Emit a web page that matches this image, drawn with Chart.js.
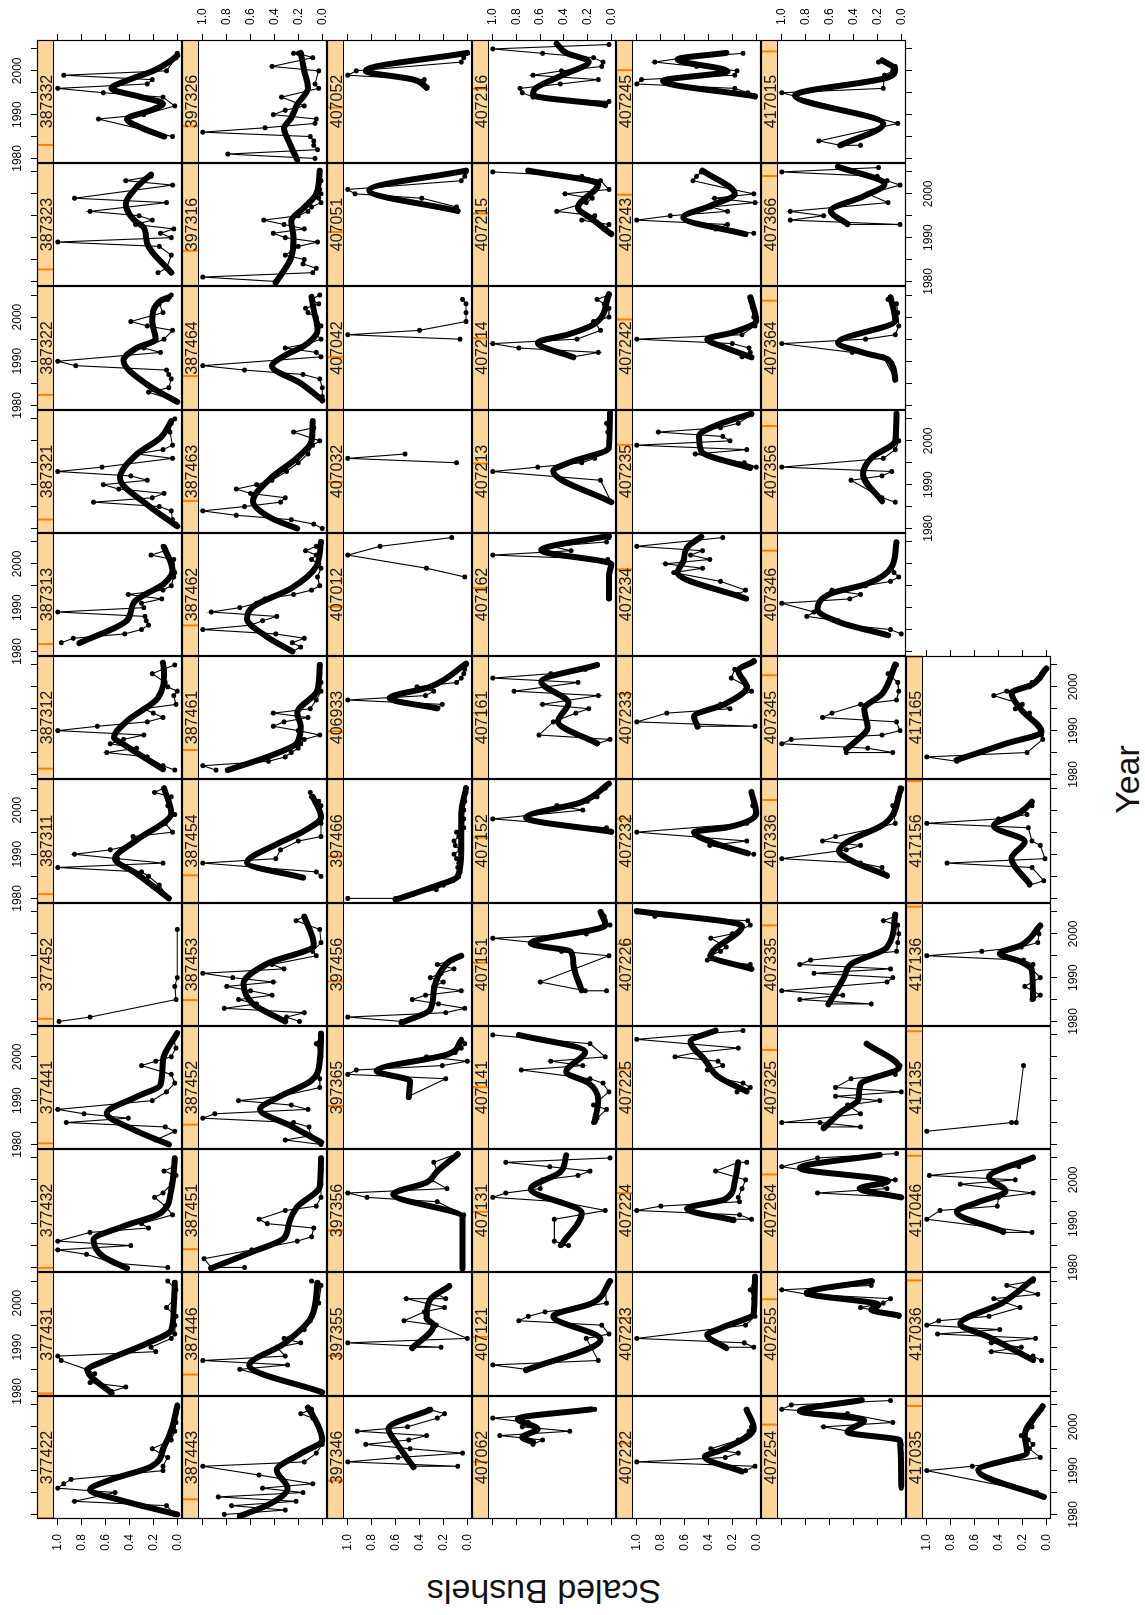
<!DOCTYPE html>
<html>
<head>
<meta charset="utf-8">
<title>Scaled Bushels by Year</title>
<script src="https://cdn.jsdelivr.net/npm/chart.js@4.4.1/dist/chart.umd.min.js"></script>
<style>
html, body { margin: 0; padding: 0; background: #fff; }
body { width: 1145px; height: 1615px; overflow: hidden; position: relative; }
/* the lattice is laid out in landscape and then turned a quarter to the left */
#page { position: absolute; left: 0; top: 0; width: 1615px; height: 1145px;
  transform-origin: 0 0; transform: translate(0px, 1615px) rotate(-90deg);
  font-family: 'Liberation Sans', Arial, Helvetica, sans-serif; color: #000; }
#page canvas { position: absolute; }
.strip { position: absolute; text-align: center; font-size: 16px; color: #1a1a1a; white-space: nowrap; }
.axis-title { position: absolute; font-size: 34px; line-height: 34px; text-align: center; white-space: nowrap; color: #111; }
</style>
</head>
<body>
<div id="page"></div>
<script>
// panels in reading order (12 per row)
const stations = [
  '377422','377431','377432','377441','377452','387311','387312','387313','387321','387322','387323','387332',
  '387443','387446','387451','387452','387453','387454','387461','387462','387463','387464','397316','397326',
  '397346','397355','397356','397365','397456','397466','406933','407012','407032','407042','407051','407052',
  '407062','407121','407131','407141','407151','407152','407161','407162','407213','407214','407215','407216',
  '407222','407223','407224','407225','407226','407232','407233','407234','407235','407242','407243','407245',
  '407254','407255','407264','407325','407335','407336','407345','407346','407356','407364','407366','417015',
  '417035','417036','417046','417135','417136','417156','417165'
];

const yearTicks = [1980, 1985, 1990, 1995, 2000, 2005];
const valueTicks = [0, 0.2, 0.4, 0.6, 0.8, 1.0];

// yearly scaled bushels, [year, value]
const rawPoints = [
  [[1980,0.02],[1982,0.09],[1983,0.86],[1985,0.52],[1986,1.0],[1987,0.95],[1988,0.89],[1990,0.12],[1991,0.12],[1993,0.08],[1995,0.21],[1997,0.05],[1999,0.02],[2001,0.01],[2003,0.01],[2005,0.0]], // 377422
  [[1980,0.55],[1981,0.43],[1982,0.73],[1984,0.69],[1985,0.76],[1987,0.97],[1988,1.0],[1989,0.18],[1990,0.22],[1992,0.05],[1993,0.02],[1995,0.02],[1997,0.01],[1999,0.09],[2001,0.02],[2003,0.01],[2005,0.08]], // 377431
  [[1980,0.08],[1981,0.53],[1983,0.76],[1984,1.0],[1985,0.39],[1986,1.0],[1988,0.73],[1989,0.24],[1990,0.3],[1992,0.04],[1994,0.1],[1996,0.19],[1997,0.12],[1999,0.05],[2001,0.01],[2002,0.11],[2003,0.03],[2005,0.02]], // 377432
  [[1980,0.07],[1981,0.18],[1983,0.02],[1984,0.1],[1985,0.93],[1986,0.41],[1987,0.78],[1988,1.0],[1990,0.21],[1992,0.09],[1994,0.02],[1996,0.05],[1998,0.30],[1999,0.18],[2000,0.05],[2002,0.01],[2004,0.03],[2005,0.01]], // 377441
  [[1980,0.99],[1981,0.73],[1985,0.01],[1988,0.02],[1990,0.0],[2001,0.0]], // 377452
  [[1980,0.07],[1983,0.15],[1985,0.24],[1986,0.3],[1987,1.0],[1988,0.12],[1989,0.5],[1990,0.86],[1991,0.56],[1992,0.4],[1994,0.37],[1995,0.04],[1997,0.1],[1999,0.02],[2001,0.08],[2003,0.05],[2004,0.19],[2005,0.11]], // 387311
  [[1981,0.02],[1982,0.12],[1984,0.25],[1985,0.59],[1986,0.34],[1987,0.56],[1988,0.45],[1989,0.28],[1990,1.0],[1991,0.67],[1992,0.25],[1993,0.12],[1994,0.2],[1995,0.28],[1996,0.01],[1998,0.03],[1999,0.0],[2000,0.08],[2001,0.1],[2003,0.21],[2004,0.12],[2005,0.02]], // 387312
  [[1982,0.97],[1983,0.87],[1984,0.44],[1985,0.30],[1986,0.24],[1987,0.26],[1988,0.27],[1989,1.0],[1990,0.28],[1991,0.30],[1992,0.13],[1993,0.41],[1994,0.12],[1995,0.05],[1997,0.03],[1998,0.02],[2001,0.03],[2002,0.22],[2003,0.10],[2004,0.12]], // 387313
  [[1981,0.01],[1982,0.04],[1984,0.05],[1985,0.15],[1986,0.70],[1987,0.21],[1988,0.11],[1989,0.49],[1990,0.62],[1991,0.25],[1992,0.39],[1993,1.0],[1994,0.63],[1996,0.04],[1997,0.34],[1998,0.12],[1999,0.04],[2002,0.06],[2004,0.05],[2005,0.02]], // 387321
  [[1981,0.01],[1983,0.24],[1984,0.07],[1986,0.05],[1987,0.07],[1988,0.09],[1989,0.85],[1990,1.0],[1992,0.14],[1993,0.28],[1995,0.11],[1997,0.04],[1998,0.25],[1999,0.39],[2001,0.12],[2003,0.15],[2004,0.08],[2005,0.05]], // 387322
  [[1982,0.16],[1983,0.09],[1986,0.05],[1988,0.15],[1989,1.0],[1990,0.05],[1991,0.14],[1992,0.03],[1993,0.35],[1994,0.21],[1995,0.32],[1996,0.73],[1998,0.09],[1999,0.86],[2002,0.04],[2003,0.43],[2004,0.22]], // 387323
  [[1985,0.04],[1989,0.66],[1990,0.28],[1992,0.02],[1994,0.12],[1995,0.62],[1996,1.0],[1997,0.25],[1998,0.21],[1999,0.95],[2000,0.09],[2003,0.01],[2004,0.0]], // 387332
  [[1980,0.82],[1981,0.31],[1982,0.76],[1983,0.22],[1984,0.87],[1985,0.16],[1986,0.50],[1987,0.08],[1989,0.53],[1991,1.0],[1992,0.15],[1994,0.05],[1996,0.0],[1999,0.02],[2002,0.08],[2003,0.18],[2004,0.09]], // 387443
  [[1980,0.01],[1985,0.69],[1986,0.29],[1987,1.0],[1988,0.31],[1990,0.38],[1991,0.18],[1992,0.32],[1994,0.15],[1996,0.1],[2000,0.03],[2004,0.01],[2005,0.09]], // 387446
  [[1980,0.65],[1980,0.93],[1982,0.99],[1984,0.59],[1986,0.21],[1987,0.09],[1989,0.07],[1990,0.46],[1991,0.53],[1993,0.31],[1994,0.05],[1996,0.01],[1999,0.01],[2002,0.01],[2005,0.01]], // 387451
  [[1980,0.01],[1981,0.31],[1982,0.1],[1984,0.11],[1985,0.24],[1986,1.0],[1987,0.9],[1988,0.12],[1989,0.26],[1990,0.70],[1991,0.35],[1993,0.02],[1995,0.02],[1997,0.03],[2000,0.01],[2003,0.05],[2005,0.01]], // 387452
  [[1980,0.19],[1981,0.3],[1982,0.15],[1983,0.82],[1984,0.55],[1985,0.70],[1986,0.42],[1987,0.6],[1988,0.80],[1989,0.41],[1990,0.75],[1991,1.0],[1992,0.32],[1993,0.42],[1995,0.05],[1996,0.08],[1998,0.01],[2001,0.02],[2003,0.22],[2004,0.15]], // 387453
  [[1985,0.01],[1986,0.05],[1988,1.0],[1989,0.39],[1991,0.35],[1993,0.2],[1994,0.01],[1997,0.01],[2001,0.01],[2002,0.03],[2003,0.09],[2004,0.1]], // 387454
  [[1981,0.89],[1982,1.0],[1983,0.45],[1984,0.31],[1985,0.26],[1986,0.2],[1987,0.18],[1988,0.15],[1989,0.02],[1990,0.2],[1991,0.41],[1992,0.32],[1993,0.12],[1994,0.41],[1995,0.1],[1997,0.05],[1999,0.01],[2001,0.01],[2003,0.02],[2005,0.02]], // 387461
  [[1980,0.25],[1981,0.18],[1982,0.25],[1983,0.15],[1984,0.39],[1985,1.0],[1986,0.6],[1987,0.5],[1988,0.38],[1989,0.93],[1990,0.69],[1991,0.55],[1992,0.48],[1993,0.24],[1994,0.09],[1995,0.02],[1997,0.04],[1999,0.01],[2000,0.03],[2001,0.09],[2002,0.05],[2003,0.14],[2004,0.05],[2005,0.01]], // 387462
  [[1980,0.0],[1981,0.07],[1982,0.26],[1983,0.72],[1984,1.0],[1985,0.65],[1986,0.35],[1987,0.31],[1988,0.60],[1989,0.72],[1990,0.55],[1991,0.42],[1993,0.3],[1995,0.2],[1997,0.12],[1999,0.08],[2000,0.02],[2002,0.24],[2003,0.07],[2004,0.08]], // 387463
  [[1981,0.0],[1982,0.0],[1984,0.0],[1986,0.02],[1987,0.16],[1988,0.65],[1989,1.0],[1991,0.01],[1992,0.05],[1993,0.31],[1994,0.12],[1995,0.01],[1996,0.05],[1998,0.01],[2000,0.05],[2001,0.12],[2002,0.14],[2003,0.03],[2004,0.09],[2005,0.02]], // 387464
  [[1980,0.39],[1981,1.0],[1982,0.08],[1983,0.05],[1984,0.16],[1985,0.15],[1986,0.31],[1987,0.25],[1988,0.2],[1989,0.04],[1990,0.31],[1991,0.41],[1992,0.15],[1993,0.32],[1994,0.49],[1995,0.2],[1996,0.12],[1997,0.09],[1998,0.01],[1999,0.03],[2000,0.01],[2001,0.02],[2003,0.01],[2004,0.02],[2005,0.02]], // 397316
  [[1980,0.06],[1981,0.79],[1982,0.04],[1983,0.07],[1984,0.07],[1985,0.10],[1986,1.0],[1987,0.48],[1988,0.06],[1989,0.05],[1990,0.41],[1991,0.31],[1992,0.15],[1994,0.34],[1996,0.03],[1997,0.06],[2000,0.03],[2001,0.42],[2003,0.08],[2004,0.20],[2004,0.24]], // 397326
  [[1991,0.45],[1991,0.08],[1992,1.0],[1993,0.58],[1994,0.04],[1995,0.48],[1996,0.85],[1997,0.49],[1998,0.34],[1999,0.92],[2000,0.5],[2002,0.25],[2003,0.19],[2004,0.32]], // 397346
  [[1990,0.46],[1990,0.22],[1991,1.0],[1992,0.0],[1995,0.26],[1996,0.53],[1998,0.36],[1999,0.19],[2001,0.51],[2001,0.18],[2002,0.25],[2004,0.15]], // 397355
  [[1980,0.04],[1992,0.03],[1995,0.25],[1996,0.84],[1997,1.0],[1998,0.17],[2000,0.3],[2002,0.25],[2004,0.28],[2006,0.08]], // 397356
  [[1991,0.49],[1995,0.18],[1996,1.0],[1997,0.93],[1998,0.21],[1999,0.0],[2000,0.34],[2001,0.1],[2002,0.05],[2003,0.02],[2004,0.05]], // 397365
  [[1980,0.55],[1981,1.0],[1982,0.18],[1983,0.02],[1984,0.24],[1985,0.46],[1986,0.35],[1987,0.05],[1988,0.28],[1989,0.2],[1990,0.31],[1991,0.22],[1992,0.11],[1993,0.25],[1994,0.12],[1995,0.05]], // 397456
  [[1980,1.0],[1980,0.6],[1981,0.45],[1982,0.26],[1983,0.2],[1984,0.12],[1985,0.07],[1986,0.06],[1987,0.08],[1988,0.07],[1989,0.09],[1990,0.11],[1991,0.06],[1992,0.1],[1993,0.11],[1994,0.07],[1995,0.09],[1996,0.03],[1998,0.03],[2000,0.03],[2002,0.02],[2004,0.01],[2005,0.01]], // 397466
  [[1995,0.26],[1996,0.21],[1997,1.0],[1998,0.35],[1999,0.28],[2000,0.42],[2001,0.09],[2002,0.05],[2003,0.03],[2004,0.02],[2005,0.01]], // 406933
  [[1997,0.02],[1999,0.34],[2002,1.0],[2004,0.73],[2006,0.13]], // 407012
  [[1995,0.09],[1996,1.0],[1997,0.52]], // 407032
  [[1995,0.06],[1996,1.0],[1997,0.40],[1999,0.01],[2001,0.01],[2003,0.01],[2004,0.04]], // 407042
  [[1996,0.08],[1997,0.09],[1999,0.38],[2000,0.94],[2001,1.0],[2003,0.05],[2004,0.02],[2005,0.01]], // 407051
  [[1996,0.34],[1998,0.36],[1999,1.0],[2000,0.93],[2002,0.05],[2003,0.03],[2004,0.01]], // 407052
  [[1996,0.66],[1997,0.58],[1998,0.94],[1999,0.35],[2000,0.75],[2001,0.7],[2002,1.0],[2003,0.5],[2004,0.14]], // 407062
  [[1985,0.72],[1986,1.0],[1987,0.11],[1992,0.21],[1993,0.02],[1995,0.08],[1996,0.78],[1997,0.70],[1998,0.56],[1999,0.28],[2000,0.04],[2003,0.05],[2005,0.01]], // 407121
  [[1985,0.43],[1985,0.36],[1986,0.48],[1991,0.48],[1993,0.05],[1995,0.43],[1996,1.0],[1997,0.89],[1998,0.6],[2000,0.58],[2001,0.28],[2002,0.18],[2003,0.52],[2004,0.89],[2005,0.01]], // 407131
  [[1985,0.15],[1986,0.12],[1988,0.04],[1989,0.15],[1992,0.02],[1994,0.07],[1995,0.18],[1997,0.76],[1998,0.24],[1999,0.51],[2000,0.05],[2003,0.18],[2005,1.0]], // 407141
  [[1987,0.04],[1987,0.22],[1989,0.60],[1995,0.02],[1996,0.42],[1998,0.65],[1999,1.0],[2000,0.21],[2002,0.01],[2003,0.05],[2004,0.06],[2005,0.09]], // 407151
  [[1995,0.0],[1996,0.04],[1998,1.0],[2000,0.24],[2001,0.46],[2002,0.2],[2003,0.12],[2004,0.11],[2005,0.05],[2006,0.02]], // 407152
  [[1987,0.12],[1988,0.01],[1989,0.61],[1992,0.49],[1994,0.3],[1995,0.19],[1996,0.58],[1998,0.11],[1999,0.82],[2001,0.28],[2002,1.0],[2003,0.51],[2004,0.22],[2005,0.12]], // 407161
  [[1992,0.02],[1994,0.02],[1996,0.02],[1997,0.02],[1999,0.01],[2001,0.03],[2002,1.0],[2003,0.34],[2004,0.51],[2005,0.04],[2006,0.02]], // 407162
  [[1986,0.0],[1991,0.09],[1993,1.0],[1994,0.62],[1995,0.25],[1996,0.14],[1998,0.04],[2000,0.02],[2002,0.03],[2004,0.04],[2006,0.01]], // 407213
  [[1991,0.32],[1992,0.11],[1993,0.78],[1994,1.0],[1995,0.29],[1997,0.09],[1999,0.15],[2000,0.02],[2002,0.02],[2003,0.06],[2004,0.12],[2005,0.02]], // 407214
  [[1991,0.0],[1992,0.05],[1993,0.02],[1994,0.25],[1995,0.14],[1996,0.46],[1998,0.21],[1999,0.16],[2000,0.39],[2001,0.02],[2003,0.09],[2004,0.25],[2005,1.0]], // 407215
  [[1992,0.05],[1993,0.02],[1994,0.66],[1995,0.75],[1996,0.77],[1997,0.43],[1998,0.11],[1999,0.66],[2000,0.42],[2001,0.08],[2002,0.07],[2003,0.15],[2004,0.58],[2005,1.0],[2006,0.02]], // 407216
  [[1990,0.09],[1991,0.01],[1992,1.0],[1993,0.26],[1994,0.15],[1995,0.38],[1997,0.15],[1999,0.06],[2000,0.04],[2002,0.05],[2004,0.08]], // 407222
  [[1990,0.26],[1990,0.02],[1991,0.1],[1992,1.0],[1995,0.09],[1997,0.01],[1999,0.02],[2001,0.02],[2003,0.05],[2006,0.01]], // 407223
  [[1991,0.19],[1991,0.04],[1992,0.14],[1993,1.0],[1994,0.80],[1995,0.14],[1996,0.15],[1998,0.12],[2000,0.09],[2002,0.34],[2004,0.15],[2004,0.08]], // 407224
  [[1992,0.16],[1993,0.05],[1994,0.11],[1995,0.29],[1997,0.41],[1998,0.28],[1999,0.32],[2000,0.68],[2001,0.5],[2002,0.15],[2004,1.0],[2006,0.11]], // 407225
  [[1992,0.04],[1993,0.05],[1994,0.41],[1995,0.39],[1996,0.3],[1997,0.25],[1999,0.38],[2000,0.2],[2002,0.05],[2003,0.07],[2004,0.85],[2005,1.0]], // 407226
  [[1990,0.02],[1992,0.39],[1993,0.08],[1995,1.0],[1997,0.08],[1999,0.01],[2001,0.03],[2003,0.03],[2004,0.04]], // 407232
  [[1991,0.49],[1991,0.01],[1992,1.0],[1994,0.75],[1995,0.22],[1996,0.3],[1999,0.04],[2000,0.07],[2002,0.21],[2004,0.18],[2006,0.02]], // 407233
  [[1992,0.08],[1993,0.15],[1994,0.09],[1996,0.3],[1998,0.69],[1999,0.45],[2000,0.76],[2001,0.39],[2002,0.55],[2003,0.45],[2004,1.0],[2006,0.28]], // 407234
  [[1994,0.05],[1994,0.0],[1995,0.1],[1997,0.51],[1998,0.08],[1999,1.0],[2000,0.22],[2001,0.28],[2002,0.82],[2003,0.3],[2004,0.15],[2006,0.04]], // 407235
  [[1991,0.12],[1992,0.05],[1993,0.06],[1994,0.2],[1995,1.0],[1996,0.12],[1998,0.01],[2000,0.02],[2002,0.03],[2004,0.04]], // 407242
  [[1991,0.02],[1992,0.34],[1993,0.24],[1994,1.0],[1995,0.72],[1996,0.24],[1997,0.38],[1998,0.01],[1999,0.35],[2000,0.02],[2001,0.2],[2003,0.53],[2004,0.5],[2005,0.46]], // 407243
  [[1994,0.01],[1995,0.07],[1996,0.18],[1997,1.0],[1998,0.96],[1999,0.18],[2000,0.16],[2001,0.5],[2002,0.85],[2003,0.6],[2004,0.11]], // 407245
  [[1986,0.0],[1987,0.0],[1988,0.0],[1990,0.0],[1992,0.0],[1994,0.0],[1996,0.0],[1997,0.02],[2000,0.65],[2001,0.07],[2003,0.45],[2004,1.0],[2005,0.92],[2006,0.09]], // 407254
  [[1997,0.02],[1999,0.34],[2000,0.15],[2001,0.09],[2002,0.79],[2003,1.0],[2004,0.25],[2005,0.24]], // 407255
  [[1996,0.0],[1997,0.70],[1998,0.12],[1999,0.2],[2000,0.05],[2002,0.77],[2003,1.0],[2005,0.7],[2006,0.04]], // 407264
  [[1984,0.65],[1984,0.34],[1985,0.68],[1985,1.0],[1987,0.34],[1989,0.45],[1990,0.18],[1991,0.55],[1992,0.0],[1993,0.55],[1995,0.42],[1996,0.05],[1998,0.01],[2003,0.29]], // 407325
  [[1984,0.61],[1984,0.25],[1985,0.85],[1986,0.49],[1987,1.0],[1989,0.12],[1990,0.07],[1991,0.73],[1992,0.09],[1993,0.85],[1994,0.76],[1996,0.04],[1998,0.03],[2000,0.02],[2002,0.03],[2003,0.15],[2004,0.05]], // 407335
  [[1985,0.12],[1987,0.16],[1988,0.34],[1989,1.0],[1991,0.46],[1992,0.34],[1993,0.66],[1994,0.55],[1996,0.2],[1997,0.05],[1999,0.06],[2001,0.07],[2003,0.03],[2005,0.01]], // 407336
  [[1985,0.46],[1985,0.07],[1986,0.28],[1987,1.0],[1988,0.92],[1989,0.16],[1990,0.01],[1992,0.04],[1993,0.66],[1994,0.58],[1996,0.34],[1997,0.04],[1999,0.02],[2001,0.03],[2003,0.11],[2005,0.04]], // 407345
  [[1984,0.0],[1985,0.09],[1986,0.45],[1987,0.53],[1988,0.79],[1989,0.73],[1991,1.0],[1992,0.43],[1993,0.34],[1994,0.58],[1995,0.3],[1996,0.09],[1997,0.02],[1998,0.06],[2000,0.07],[2002,0.05],[2005,0.04]], // 407346
  [[1986,0.05],[1987,0.16],[1991,0.42],[1992,0.16],[1993,0.08],[1994,1.0],[1996,0.15],[1998,0.05],[2000,0.02],[2003,0.04],[2006,0.04]], // 407356
  [[1986,0.05],[1991,0.15],[1992,0.41],[1994,1.0],[1995,0.3],[1996,0.05],[1998,0.02],[2001,0.03],[2003,0.04],[2004,0.11]], // 407364
  [[1993,0.45],[1993,0.01],[1994,0.93],[1995,0.65],[1996,0.93],[1998,0.11],[2000,0.28],[2002,0.01],[2003,0.12],[2004,0.2],[2005,1.0],[2006,0.19]], // 407366
  [[1983,0.34],[1983,0.51],[1984,0.69],[1988,0.03],[1995,1.0],[1996,0.15],[1999,0.14],[2000,0.07],[2001,0.05],[2002,0.19]], // 417015
  [[1984,0.02],[1985,0.08],[1990,1.0],[1991,0.62],[1993,0.05],[1995,0.14],[1996,0.11],[1997,0.15],[1998,0.21],[2000,0.12],[2003,0.07],[2004,0.04]], // 417035
  [[1987,0.04],[1988,0.11],[1989,0.46],[1990,0.21],[1991,0.46],[1992,0.09],[1993,0.91],[1994,0.39],[1995,1.0],[1996,0.9],[1997,0.48],[1999,0.22],[2001,0.44],[2002,0.07],[2004,0.33],[2005,0.11]], // 417036
  [[1988,0.36],[1988,0.12],[1991,1.0],[1993,0.89],[1994,0.41],[1996,0.40],[1997,0.11],[1999,0.72],[2000,0.26],[2001,0.98],[2003,0.23],[2004,0.21],[2005,0.11]], // 417046
  [[1983,1.0],[1985,0.29],[1985,0.25],[1998,0.19]], // 417135
  [[1985,0.12],[1986,0.05],[1988,0.18],[1990,0.05],[1992,0.12],[1993,0.11],[1994,0.19],[1995,1.0],[1996,0.54],[1997,0.21],[1998,0.07],[2000,0.06],[2002,0.05]], // 417136
  [[1983,0.14],[1984,0.02],[1987,0.12],[1988,0.83],[1989,0.01],[1992,0.05],[1993,0.12],[1996,0.15],[1997,1.0],[1998,0.4],[1999,0.16],[2000,0.2],[2001,0.12]], // 417156
  [[1983,0.75],[1984,1.0],[1985,0.16],[1988,0.03],[1989,0.04],[1991,0.07],[1994,0.14],[1995,0.26],[1996,0.2],[1998,0.44],[1999,0.33],[2000,0.14],[2001,0.12],[2002,0.05],[2003,0.04],[2004,0.0]] // 417165
];

// smoothed trend per panel, [year, value]
const smoothPoints = [
  [[1980,0.0],[1983.3,0.48],[1985.6,0.73],[1987.9,0.56],[1990.9,0.22],[1995.5,0.11],[2000,0.04],[2004.7,0.0]], // 377422
  [[1979.6,0.55],[1984.8,0.75],[1987.1,0.59],[1990.9,0.25],[1993.9,0.05],[1999,0.03],[2004.6,0.02]], // 377431
  [[1979.8,0.42],[1982.5,0.62],[1986.3,0.70],[1989.4,0.45],[1992.4,0.14],[1997.8,0.05],[2004.9,0.02]], // 377432
  [[1980,0.07],[1983.3,0.36],[1987.1,0.59],[1990.9,0.34],[1993.6,0.14],[1999.3,0.12],[2005.4,0.0]], // 377441
  [], // 377452
  [[1980,0.07],[1985.6,0.34],[1989,0.52],[1993.2,0.34],[1999.3,0.05],[2004.9,0.11]], // 387311
  [[1981.2,0.12],[1986.9,0.45],[1988.4,0.53],[1992.2,0.42],[1997.5,0.16],[2003.6,0.11],[2005.5,0.12]], // 387312
  [[1981.9,0.82],[1987.1,0.42],[1991.3,0.36],[1995.5,0.11],[1998.5,0.04],[2003.8,0.11]], // 387313
  [[1980.5,0.0],[1985.4,0.25],[1991.5,0.48],[1996.9,0.34],[2000.7,0.14],[2004.5,0.05]], // 387321
  [[1980.8,0.0],[1984.7,0.25],[1990.2,0.45],[1993,0.34],[1995,0.18],[1999,0.21],[2003.7,0.14],[2004.5,0.07]], // 387322
  [[1982,0.05],[1988.5,0.25],[1992.3,0.28],[1994,0.36],[1997.6,0.43],[2001.5,0.34],[2004.4,0.22]], // 387323
  [[1985,0.11],[1987,0.3],[1989,0.42],[1991,0.22],[1992.5,0.12],[1994,0.3],[1996,0.55],[1998,0.4],[2000,0.2],[2002,0.07],[2003.5,0.0]], // 387332
  [[1979.6,0.69],[1982.5,0.43],[1986,0.29],[1990.1,0.38],[1993.9,0.18],[1997,0.0],[2002.7,0.08],[2004.4,0.12]], // 387443
  [[1979.8,0.0],[1985.9,0.61],[1990.8,0.32],[1996.9,0.09],[2004.6,0.04]], // 387446
  [[1979.8,0.93],[1983.3,0.61],[1986.7,0.32],[1990,0.28],[1993.8,0.21],[1998.5,0.02],[2004.9,0.01]], // 387451
  [[1980.5,0.01],[1984.2,0.26],[1988,0.52],[1990.6,0.38],[1994.6,0.09],[1999.2,0.02],[2005.3,0.01]], // 387452
  [[1980,0.31],[1984,0.58],[1988.6,0.66],[1993.2,0.46],[1997.4,0.07],[2003.9,0.15]], // 387453
  [[1984.7,0.16],[1988.1,0.63],[1992.3,0.38],[1995.3,0.15],[1998.4,0.01],[2003,0.08]], // 387454
  [[1981,0.79],[1984.3,0.43],[1987.2,0.21],[1991,0.18],[1994,0.21],[1999.2,0.04],[2005,0.02]], // 387461
  [[1980,0.25],[1983.3,0.46],[1987.5,0.63],[1990.2,0.58],[1994.4,0.26],[1999.4,0.05],[2005,0.01]], // 387462
  [[1980,0.21],[1982.4,0.43],[1986.2,0.58],[1991.5,0.43],[1996.1,0.21],[1999.9,0.09],[2004.5,0.08]], // 387463
  [[1981.2,0.0],[1985,0.18],[1988.9,0.42],[1991.5,0.3],[1993.5,0.15],[1997,0.04],[2001.5,0.07],[2004.6,0.09]], // 387464
  [[1979.7,0.39],[1985.4,0.26],[1990,0.24],[1993.8,0.26],[1996.9,0.15],[2000,0.05],[2005.3,0.02]], // 397316
  [[1979.7,0.21],[1983.9,0.28],[1986.9,0.32],[1989.2,0.26],[1992.3,0.21],[1996.1,0.12],[2000,0.15],[2004.1,0.18]], // 397326
  [[1990.8,0.45],[1993.1,0.51],[1996.2,0.59],[1999.6,0.66],[2003.9,0.31]], // 397346
  [[1989.8,0.46],[1995,0.28],[1996.6,0.34],[2000.8,0.31],[2003.8,0.15]], // 397355
  [[1979.8,0.04],[1991.5,0.04],[1996.7,0.62],[1999.4,0.34],[2002,0.25],[2005.8,0.08]], // 397356
  [[1990.8,0.49],[1994.5,0.48],[1996.8,0.76],[2000.6,0.16],[2003.7,0.05]], // 397365
  [[1979.7,0.55],[1982.7,0.31],[1987,0.28],[1991.5,0.22],[1993.9,0.14],[1995,0.05]], // 397456
  [[1979.7,0.60],[1982.4,0.31],[1985,0.08],[1990.8,0.05],[1999.2,0.05],[2005,0.01]], // 397466
  [[1995.1,0.25],[1997.4,0.65],[2000,0.31],[2005.3,0.01]], // 406933
  [], // 407012
  [], // 407032
  [], // 407042
  [[1996.1,0.08],[2000.8,0.82],[2005.3,0.01]], // 407051
  [[1996.2,0.34],[1998,0.45],[2000,0.85],[2004.1,0.0]], // 407052
  [[1996.5,0.66],[1997.6,0.75],[1999.5,0.62],[2001.8,0.79],[2004,0.17]], // 407062
  [[1984.8,0.72],[1991.8,0.09],[1997,0.49],[2000,0.16],[2005,0.01]], // 407121
  [[1985.2,0.42],[1992.5,0.25],[1997.9,0.68],[2001.8,0.43],[2005.6,0.38]], // 407131
  [[1985.2,0.14],[1990.2,0.11],[1994,0.19],[1996.6,0.38],[2001.2,0.22],[2005,0.78]], // 407141
  [[1987.1,0.25],[1993.2,0.32],[1995.9,0.34],[1997.8,0.68],[2002,0.05],[2005,0.09]], // 407151
  [[1995.1,0.0],[1998.3,0.72],[2001.8,0.25],[2006,0.02]], // 407152
  [[1987.1,0.12],[1992.1,0.45],[1996.3,0.36],[2001.2,0.59],[2005,0.12]], // 407161
  [[1992.1,0.02],[1997.3,0.02],[1999.9,0.0],[2003.1,0.59],[2006.4,0.02]], // 407162
  [[1986,0.0],[1993.1,0.49],[1995,0.36],[1998.4,0.02],[2006.4,0.01]], // 407213
  [[1990.9,0.32],[1994.2,0.62],[1996.1,0.36],[1998.5,0.14],[2005.2,0.02]], // 407214
  [[1990.8,0.0],[1994.2,0.16],[1996.9,0.28],[2002.2,0.11],[2005.3,0.70]], // 407215
  [[1992.3,0.05],[1994.5,0.66],[1995.7,0.65],[1998.8,0.43],[2002.1,0.19],[2004.1,0.38],[2006.2,0.46]], // 407216
  [[1989.8,0.12],[1993.2,0.43],[1994.7,0.29],[1999.6,0.02],[2003.9,0.08]], // 407222
  [[1989.8,0.25],[1992.8,0.41],[1994.4,0.29],[1997.7,0.02],[2006,0.01]], // 407223
  [[1990.8,0.19],[1993.4,0.58],[1995.6,0.26],[1999.5,0.18],[2004,0.15]], // 407224
  [[1992.1,0.08],[1995.5,0.32],[1999.3,0.43],[2003.5,0.55],[2006,0.34]], // 407225
  [[1992,0.04],[1995,0.38],[2001.8,0.12],[2005.2,1.0]], // 407226
  [[1990.2,0.07],[1992.8,0.38],[1995,0.52],[1996.1,0.24],[1999.2,0.0],[2004.1,0.04]], // 407232
  [[1990.9,0.49],[1993.2,0.52],[1996.1,0.26],[1999.9,0.08],[2003.7,0.15],[2005.8,0.02]], // 407233
  [[1992.1,0.09],[1998,0.66],[2000.6,0.61],[2003.7,0.58],[2006.2,0.46]], // 407234
  [[1993.8,0.05],[1997.6,0.46],[2001.1,0.48],[2003.7,0.32],[2006.2,0.04]], // 407235
  [[1990.9,0.04],[1993.1,0.26],[1995,0.41],[1996.5,0.2],[1999.2,0.0],[2004.5,0.05]], // 407242
  [[1990.8,0.09],[1994.6,0.61],[1997.3,0.38],[2000,0.18],[2005.3,0.45]], // 407243
  [[1994.2,0.01],[1997.7,0.78],[1999.9,0.24],[2002.6,0.66],[2004.1,0.25]], // 407245
  [[1986.5,0.0],[1996.9,0.01],[1998.8,0.45],[2001.5,0.31],[2003.6,0.85],[2006.1,0.33]], // 407254
  [[1997.2,0.02],[1998.5,0.25],[1999.6,0.19],[2002.3,0.79],[2005,0.25]], // 407255
  [[1996,0.0],[1998,0.35],[1999.7,0.11],[2002.7,0.85],[2005.7,0.18]], // 407264
  [[1983.7,0.65],[1987.5,0.5],[1990.2,0.36],[1993.8,0.34],[1997.6,0.02],[2003,0.29]], // 407325
  [[1983.9,0.61],[1990,0.48],[1993.1,0.42],[1996.9,0.12],[2004.4,0.05]], // 407335
  [[1985.2,0.12],[1988.6,0.42],[1990.8,0.52],[1992.8,0.45],[1996.9,0.14],[2004.9,0.0]], // 407336
  [[1985.8,0.46],[1987.6,0.38],[1990.7,0.28],[1994.9,0.31],[1998.4,0.16],[2005.1,0.05]], // 407345
  [[1983.7,0.11],[1986.6,0.51],[1989.7,0.70],[1993.2,0.59],[1995.5,0.28],[1999.3,0.08],[2004.9,0.04]], // 407346
  [[1986.2,0.16],[1992.4,0.32],[1996.1,0.25],[2000,0.05],[2006.2,0.04]], // 407356
  [[1985.8,0.05],[1990.4,0.11],[1991.9,0.31],[1994.2,0.53],[1999.2,0.05],[2004.5,0.09]], // 407364
  [[1993.1,0.45],[1996.1,0.59],[1999.5,0.31],[2002.2,0.14],[2006.2,0.53]], // 407366
  [[1983,0.51],[1987.9,0.15],[1994.4,0.89],[1998.5,0.11],[2000.3,0.05],[2002.4,0.16]], // 417015
  [[1984,0.02],[1990.1,0.57],[1994.2,0.16],[1998,0.18],[2004.7,0.03]], // 417035
  [[1987.1,0.11],[1992.3,0.48],[1995.3,0.72],[2000,0.37],[2005.4,0.11]], // 417036
  [[1988.2,0.36],[1992.7,0.75],[1994.9,0.57],[1997.4,0.34],[2000.6,0.48],[2005.1,0.11]], // 417046
  [], // 417135
  [[1985.2,0.11],[1991.6,0.12],[1993.6,0.21],[1995.5,0.39],[1997.4,0.21],[2001.9,0.05]], // 417136
  [[1983.3,0.14],[1989.1,0.29],[1992.9,0.18],[1996.4,0.44],[1999.6,0.21],[2001.9,0.12]], // 417156
  [[1983.3,0.75],[1987.1,0.33],[1989.7,0.04],[1994.8,0.21],[1998.6,0.29],[2000.5,0.12],[2004.2,0.0]] // 417165
];

// lattice geometry, in the unturned (landscape) page
const nCols = 12, nRows = 7;
const gridLeft = 96, gridRight = 1575, gridTop = 37, gridBottom = 1051;
const stripH = 16, margin = 40;
const stripColor = '#ffd699', markColor = '#ff7f00';
const tickFont = { family: "'Liberation Sans', Arial, sans-serif", size: 12 };

const colX = c => Math.round(gridLeft + c * (gridRight - gridLeft) / nCols);
const rowY = r => Math.round(gridTop + r * (gridBottom - gridTop) / nRows);

const page = document.getElementById('page');

// strip and panel border, drawn over the axis ticks
const panelFrame = {
  id: 'panelFrame',
  afterDraw(chart, args, opts) {
    const ctx = chart.ctx;
    const a = chart.chartArea;
    const w = a.right - a.left;
    ctx.save();
    ctx.fillStyle = stripColor;
    ctx.fillRect(a.left, a.top - stripH, w, stripH);
    ctx.fillStyle = markColor;
    ctx.fillRect(a.left + w * opts.level / stations.length, a.top - stripH, Math.max(2, w / stations.length), stripH);
    ctx.strokeStyle = '#000';
    ctx.lineWidth = 1.2;
    ctx.strokeRect(a.left + 0.5, a.top - stripH + 0.5, w - 1, a.bottom - a.top + stripH - 1);
    ctx.beginPath();
    ctx.moveTo(a.left, a.top + 0.5);
    ctx.lineTo(a.right, a.top + 0.5);
    ctx.stroke();
    ctx.restore();
  }
};

stations.forEach((name, i) => {
  const r = Math.floor(i / nCols), c = i % nCols;
  const x0 = colX(c), x1 = colX(c + 1), y0 = rowY(r), y1 = rowY(r + 1);
  const hasTop = r === 0;
  const hasBottom = i + nCols >= stations.length;
  const hasLeft = c === 0;
  const hasRight = c === nCols - 1 || i === stations.length - 1;
  const showX = (hasTop && c % 2 === 1) || (hasBottom && c % 2 === 0);
  const showY = (hasLeft && r % 2 === 0) || (hasRight && r % 2 === 1);

  const canvas = document.createElement('canvas');
  const cw = x1 - x0 + 2 * margin, ch = y1 - y0 + 2 * margin;
  canvas.width = cw;
  canvas.height = ch;
  canvas.style.left = (x0 - margin) + 'px';
  canvas.style.top = (y0 - margin) + 'px';
  canvas.style.width = cw + 'px';
  canvas.style.height = ch + 'px';
  page.appendChild(canvas);

  new Chart(canvas, {
    type: 'line',
    data: {
      datasets: [
        {
          data: smoothPoints[i].map(p => ({ x: p[0], y: p[1] })),
          borderColor: '#000',
          borderWidth: 6,
          borderCapStyle: 'round',
          borderJoinStyle: 'round',
          cubicInterpolationMode: 'monotone',
          pointRadius: 0
        },
        {
          data: rawPoints[i].map(p => ({ x: p[0], y: p[1] })),
          borderColor: '#000',
          borderWidth: 1.1,
          pointRadius: 2.5,
          pointBackgroundColor: '#000',
          pointBorderWidth: 0,
          tension: 0
        }
      ]
    },
    options: {
      responsive: false,
      animation: false,
      devicePixelRatio: 1,
      events: [],
      layout: {
        padding: {
          left: hasLeft ? 0 : margin,
          right: hasRight ? 0 : margin,
          top: hasTop ? 0 : margin + stripH,
          bottom: hasBottom ? 0 : margin
        }
      },
      plugins: {
        legend: { display: false },
        tooltip: { enabled: false },
        panelFrame: { level: i }
      },
      scales: {
        x: {
          type: 'linear',
          min: 1978.96,
          max: 2007.04,
          position: hasTop ? 'top' : 'bottom',
          display: hasTop || hasBottom,
          afterBuildTicks: s => { s.ticks = yearTicks.map(v => ({ value: v })); },
          afterFit: s => { if (hasTop) s.height = margin + stripH; else if (hasBottom) s.height = margin; },
          grid: { drawOnChartArea: false, drawTicks: true, tickLength: hasTop ? stripH + 6 : 6, tickColor: '#000', tickWidth: 1 },
          border: { display: false },
          ticks: {
            autoSkip: false, maxRotation: 0, minRotation: 0,
            padding: hasTop ? 6 : 9,
            color: '#000', font: tickFont,
            callback: v => (showX && v % 10 === 0) ? String(v) : ''
          }
        },
        y: {
          type: 'linear',
          min: -0.04,
          max: 1.04,
          position: hasRight ? 'right' : 'left',
          display: hasLeft || hasRight,
          afterBuildTicks: s => { s.ticks = valueTicks.map(v => ({ value: v })); },
          afterFit: s => { if (hasLeft || hasRight) s.width = margin; },
          grid: { drawOnChartArea: false, drawTicks: true, tickLength: 6, tickColor: '#000', tickWidth: 1 },
          border: { display: false },
          ticks: {
            padding: 9, color: '#000', font: tickFont,
            callback: v => showY ? v.toFixed(1) : ''
          }
        }
      }
    },
    plugins: [panelFrame]
  });

  const label = document.createElement('div');
  label.className = 'strip';
  label.textContent = name;
  label.style.left = x0 + 'px';
  label.style.width = (x1 - x0) + 'px';
  label.style.top = (y0 + 2) + 'px';
  label.style.height = stripH + 'px';
  label.style.lineHeight = stripH + 'px';
  page.appendChild(label);
});

// axis titles
const xTitle = document.createElement('div');
xTitle.className = 'axis-title';
xTitle.textContent = 'Year';
xTitle.style.left = ((gridLeft + gridRight) / 2 - 100) + 'px';
xTitle.style.width = '200px';
xTitle.style.top = '1110px';
page.appendChild(xTitle);

const yTitle = document.createElement('div');
yTitle.className = 'axis-title';
yTitle.textContent = 'Scaled Bushels';
yTitle.style.left = (23 - 200) + 'px';
yTitle.style.width = '400px';
yTitle.style.top = ((gridTop + gridBottom) / 2 - 17) + 'px';
yTitle.style.transform = 'rotate(-90deg)';
page.appendChild(yTitle);
</script>
</body>
</html>
